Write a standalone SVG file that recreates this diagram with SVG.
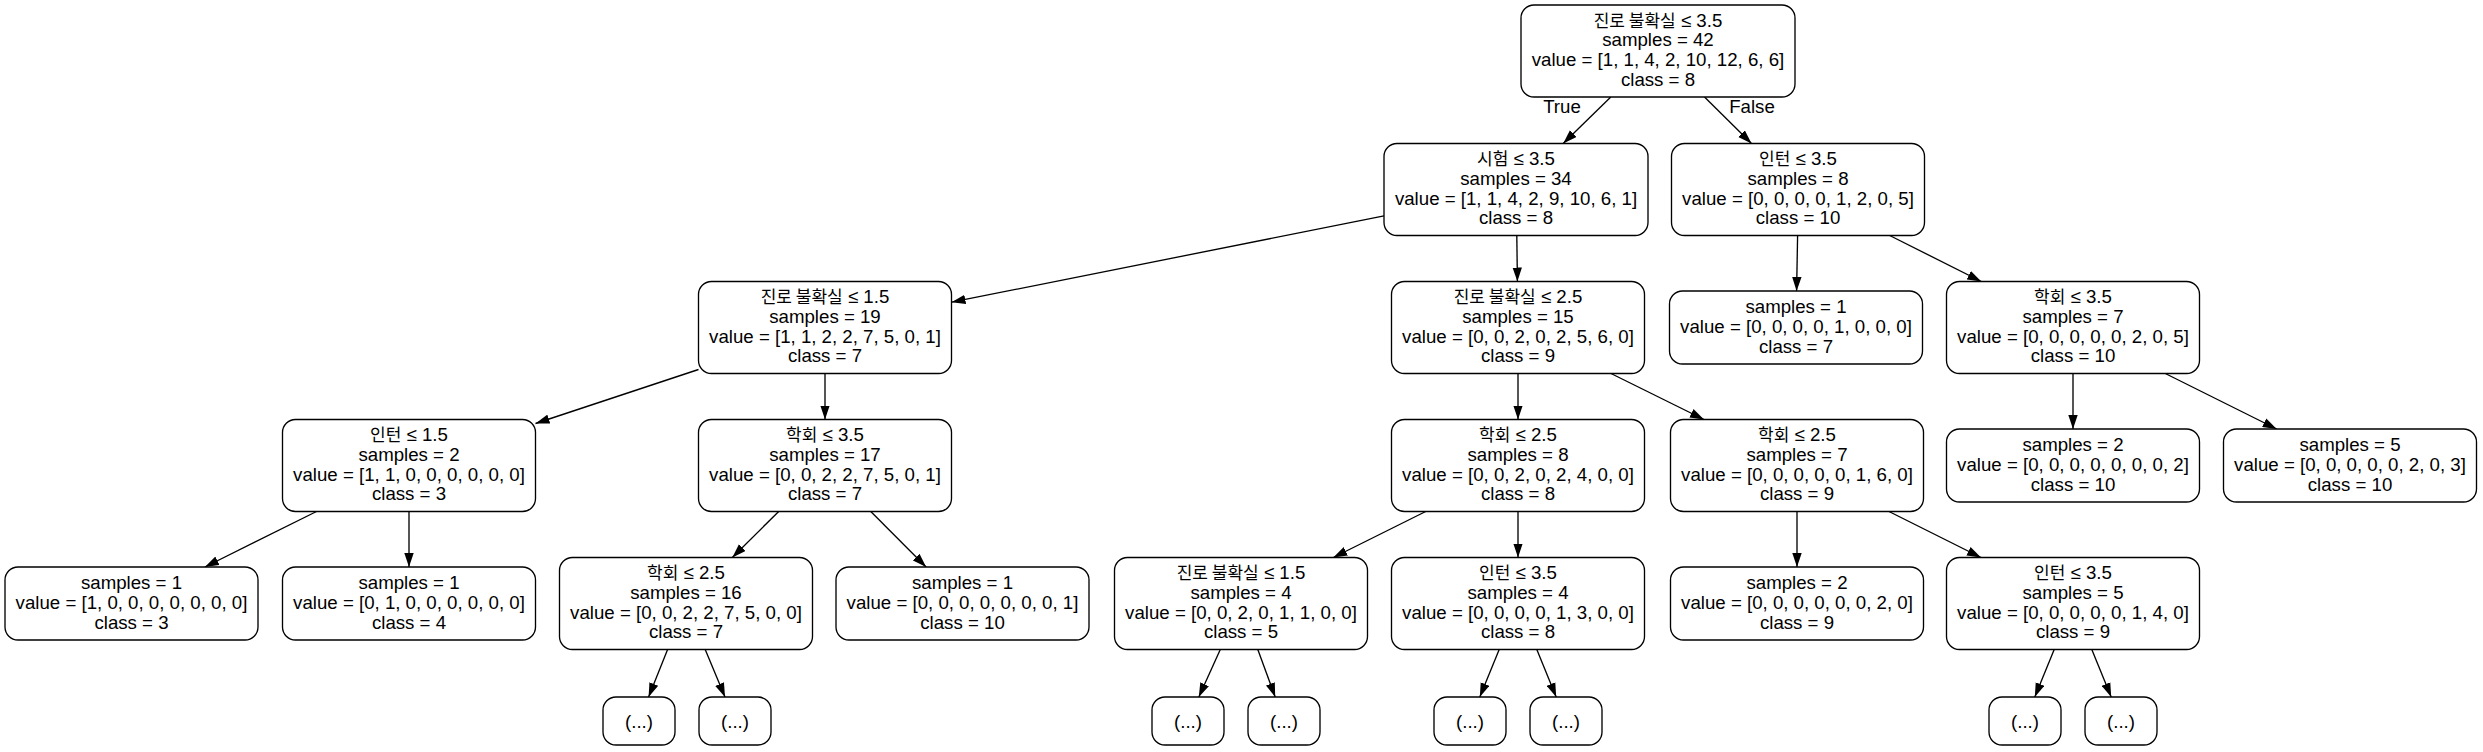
<svg xmlns="http://www.w3.org/2000/svg" width="2483" height="752" viewBox="0 0 2483 752">
<style>
.n rect{fill:#fff;stroke:#000;stroke-width:1.33}
text{font-family:"Liberation Sans","Noto Sans CJK KR",sans-serif;font-size:18.67px;text-anchor:middle;fill:#000}
.k{font-family:"Noto Sans CJK KR",sans-serif;font-size:17px}
.e path{stroke:#000;stroke-width:1.33;fill:none;marker-end:url(#a)}
</style>
<defs>
<marker id="a" markerUnits="userSpaceOnUse" viewBox="0 0 14 10" markerWidth="14" markerHeight="10" refX="14" refY="5" orient="auto">
<path d="M0,0.3 L14,5 L0,9.7 z" fill="#000"/>
</marker>
</defs>
<rect width="2483" height="752" fill="#fff"/>
<g id="edges" class="e">
<path d="M1610.8,97 L1563.2,143.5"/>
<path d="M1704.5,97 L1751.5,143.5"/>
<path d="M1384,215.9 L951.5,302.2"/>
<path d="M1516.8,235.5 L1517.4,281.5"/>
<path d="M698.5,369.5 L535.5,423.5"/>
<path d="M825,373.5 L825,419.5"/>
<path d="M316.5,511.5 L204.9,567"/>
<path d="M409,511.5 L409,567"/>
<path d="M778.7,511.5 L732.3,557.5"/>
<path d="M870.8,511.5 L926.1,567"/>
<path d="M667.6,649.5 L648.6,697"/>
<path d="M705.2,649.5 L725,697"/>
<path d="M1518,373.5 L1518,419.5"/>
<path d="M1611,373.5 L1704,419.5"/>
<path d="M1425.7,511.5 L1333.3,557.5"/>
<path d="M1518,511.5 L1518,557.5"/>
<path d="M1220.3,649.5 L1198.8,697"/>
<path d="M1257.8,649.5 L1275.2,697"/>
<path d="M1499.2,649.5 L1479.8,697"/>
<path d="M1536.8,649.5 L1556.2,697"/>
<path d="M1797,511.5 L1797,567"/>
<path d="M1889,511.5 L1981,557.5"/>
<path d="M2054.2,649.5 L2034.8,697"/>
<path d="M2091.8,649.5 L2111.2,697"/>
<path d="M1797.6,235.5 L1796.6,291"/>
<path d="M1889.7,235.5 L1981.3,281.5"/>
<path d="M2073,373.5 L2073,429"/>
<path d="M2165.3,373.5 L2276.7,429"/>
<text x="1562" y="113">True</text>
<text x="1752" y="113">False</text>
</g>
<g id="n0" class="n"><rect x="1521" y="5" width="274" height="92" rx="13"/>
<text x="1658" y="26.5"><tspan class="k">진로 불확실</tspan> ≤ 3.5</text><text x="1658" y="46.3">samples = 42</text><text x="1658" y="66.1">value = [1, 1, 4, 2, 10, 12, 6, 6]</text><text x="1658" y="85.9">class = 8</text></g>
<g id="n1" class="n"><rect x="1384" y="143.5" width="264" height="92" rx="13"/>
<text x="1516" y="165"><tspan class="k">시험</tspan> ≤ 3.5</text><text x="1516" y="184.8">samples = 34</text><text x="1516" y="204.6">value = [1, 1, 4, 2, 9, 10, 6, 1]</text><text x="1516" y="224.4">class = 8</text></g>
<g id="n24" class="n"><rect x="1671.5" y="143.5" width="253" height="92" rx="13"/>
<text x="1798" y="165"><tspan class="k">인턴</tspan> ≤ 3.5</text><text x="1798" y="184.8">samples = 8</text><text x="1798" y="204.6">value = [0, 0, 0, 0, 1, 2, 0, 5]</text><text x="1798" y="224.4">class = 10</text></g>
<g id="n2" class="n"><rect x="698.5" y="281.5" width="253" height="92" rx="13"/>
<text x="825" y="303"><tspan class="k">진로 불확실</tspan> ≤ 1.5</text><text x="825" y="322.8">samples = 19</text><text x="825" y="342.6">value = [1, 1, 2, 2, 7, 5, 0, 1]</text><text x="825" y="362.4">class = 7</text></g>
<g id="n11" class="n"><rect x="1391.5" y="281.5" width="253" height="92" rx="13"/>
<text x="1518" y="303"><tspan class="k">진로 불확실</tspan> ≤ 2.5</text><text x="1518" y="322.8">samples = 15</text><text x="1518" y="342.6">value = [0, 0, 2, 0, 2, 5, 6, 0]</text><text x="1518" y="362.4">class = 9</text></g>
<g id="n25" class="n"><rect x="1669.5" y="291" width="253" height="73" rx="13"/>
<text x="1796" y="312.9">samples = 1</text><text x="1796" y="332.7">value = [0, 0, 0, 0, 1, 0, 0, 0]</text><text x="1796" y="352.5">class = 7</text></g>
<g id="n26" class="n"><rect x="1946.5" y="281.5" width="253" height="92" rx="13"/>
<text x="2073" y="303"><tspan class="k">학회</tspan> ≤ 3.5</text><text x="2073" y="322.8">samples = 7</text><text x="2073" y="342.6">value = [0, 0, 0, 0, 0, 2, 0, 5]</text><text x="2073" y="362.4">class = 10</text></g>
<g id="n3" class="n"><rect x="282.5" y="419.5" width="253" height="92" rx="13"/>
<text x="409" y="441"><tspan class="k">인턴</tspan> ≤ 1.5</text><text x="409" y="460.8">samples = 2</text><text x="409" y="480.6">value = [1, 1, 0, 0, 0, 0, 0, 0]</text><text x="409" y="500.4">class = 3</text></g>
<g id="n6" class="n"><rect x="698.5" y="419.5" width="253" height="92" rx="13"/>
<text x="825" y="441"><tspan class="k">학회</tspan> ≤ 3.5</text><text x="825" y="460.8">samples = 17</text><text x="825" y="480.6">value = [0, 0, 2, 2, 7, 5, 0, 1]</text><text x="825" y="500.4">class = 7</text></g>
<g id="n12" class="n"><rect x="1391.5" y="419.5" width="253" height="92" rx="13"/>
<text x="1518" y="441"><tspan class="k">학회</tspan> ≤ 2.5</text><text x="1518" y="460.8">samples = 8</text><text x="1518" y="480.6">value = [0, 0, 2, 0, 2, 4, 0, 0]</text><text x="1518" y="500.4">class = 8</text></g>
<g id="n19" class="n"><rect x="1670.5" y="419.5" width="253" height="92" rx="13"/>
<text x="1797" y="441"><tspan class="k">학회</tspan> ≤ 2.5</text><text x="1797" y="460.8">samples = 7</text><text x="1797" y="480.6">value = [0, 0, 0, 0, 0, 1, 6, 0]</text><text x="1797" y="500.4">class = 9</text></g>
<g id="n27" class="n"><rect x="1946.5" y="429" width="253" height="73" rx="13"/>
<text x="2073" y="450.9">samples = 2</text><text x="2073" y="470.7">value = [0, 0, 0, 0, 0, 0, 0, 2]</text><text x="2073" y="490.5">class = 10</text></g>
<g id="n28" class="n"><rect x="2223.5" y="429" width="253" height="73" rx="13"/>
<text x="2350" y="450.9">samples = 5</text><text x="2350" y="470.7">value = [0, 0, 0, 0, 0, 2, 0, 3]</text><text x="2350" y="490.5">class = 10</text></g>
<g id="n4" class="n"><rect x="5" y="567" width="253" height="73" rx="13"/>
<text x="131.5" y="588.9">samples = 1</text><text x="131.5" y="608.7">value = [1, 0, 0, 0, 0, 0, 0, 0]</text><text x="131.5" y="628.5">class = 3</text></g>
<g id="n5" class="n"><rect x="282.5" y="567" width="253" height="73" rx="13"/>
<text x="409" y="588.9">samples = 1</text><text x="409" y="608.7">value = [0, 1, 0, 0, 0, 0, 0, 0]</text><text x="409" y="628.5">class = 4</text></g>
<g id="n7" class="n"><rect x="559.5" y="557.5" width="253" height="92" rx="13"/>
<text x="686" y="579"><tspan class="k">학회</tspan> ≤ 2.5</text><text x="686" y="598.8">samples = 16</text><text x="686" y="618.6">value = [0, 0, 2, 2, 7, 5, 0, 0]</text><text x="686" y="638.4">class = 7</text></g>
<g id="n10" class="n"><rect x="836" y="567" width="253" height="73" rx="13"/>
<text x="962.5" y="588.9">samples = 1</text><text x="962.5" y="608.7">value = [0, 0, 0, 0, 0, 0, 0, 1]</text><text x="962.5" y="628.5">class = 10</text></g>
<g id="n13" class="n"><rect x="1114.5" y="557.5" width="253" height="92" rx="13"/>
<text x="1241" y="579"><tspan class="k">진로 불확실</tspan> ≤ 1.5</text><text x="1241" y="598.8">samples = 4</text><text x="1241" y="618.6">value = [0, 0, 2, 0, 1, 1, 0, 0]</text><text x="1241" y="638.4">class = 5</text></g>
<g id="n16" class="n"><rect x="1391.5" y="557.5" width="253" height="92" rx="13"/>
<text x="1518" y="579"><tspan class="k">인턴</tspan> ≤ 3.5</text><text x="1518" y="598.8">samples = 4</text><text x="1518" y="618.6">value = [0, 0, 0, 0, 1, 3, 0, 0]</text><text x="1518" y="638.4">class = 8</text></g>
<g id="n20" class="n"><rect x="1670.5" y="567" width="253" height="73" rx="13"/>
<text x="1797" y="588.9">samples = 2</text><text x="1797" y="608.7">value = [0, 0, 0, 0, 0, 0, 2, 0]</text><text x="1797" y="628.5">class = 9</text></g>
<g id="n21" class="n"><rect x="1946.5" y="557.5" width="253" height="92" rx="13"/>
<text x="2073" y="579"><tspan class="k">인턴</tspan> ≤ 3.5</text><text x="2073" y="598.8">samples = 5</text><text x="2073" y="618.6">value = [0, 0, 0, 0, 0, 1, 4, 0]</text><text x="2073" y="638.4">class = 9</text></g>
<g id="n8" class="n"><rect x="603" y="697" width="72" height="48" rx="13"/><text x="639" y="727.5">(...)</text></g>
<g id="n9" class="n"><rect x="699" y="697" width="72" height="48" rx="13"/><text x="735" y="727.5">(...)</text></g>
<g id="n14" class="n"><rect x="1152" y="697" width="72" height="48" rx="13"/><text x="1188" y="727.5">(...)</text></g>
<g id="n15" class="n"><rect x="1248" y="697" width="72" height="48" rx="13"/><text x="1284" y="727.5">(...)</text></g>
<g id="n17" class="n"><rect x="1434" y="697" width="72" height="48" rx="13"/><text x="1470" y="727.5">(...)</text></g>
<g id="n18" class="n"><rect x="1530" y="697" width="72" height="48" rx="13"/><text x="1566" y="727.5">(...)</text></g>
<g id="n22" class="n"><rect x="1989" y="697" width="72" height="48" rx="13"/><text x="2025" y="727.5">(...)</text></g>
<g id="n23" class="n"><rect x="2085" y="697" width="72" height="48" rx="13"/><text x="2121" y="727.5">(...)</text></g>
</svg>
